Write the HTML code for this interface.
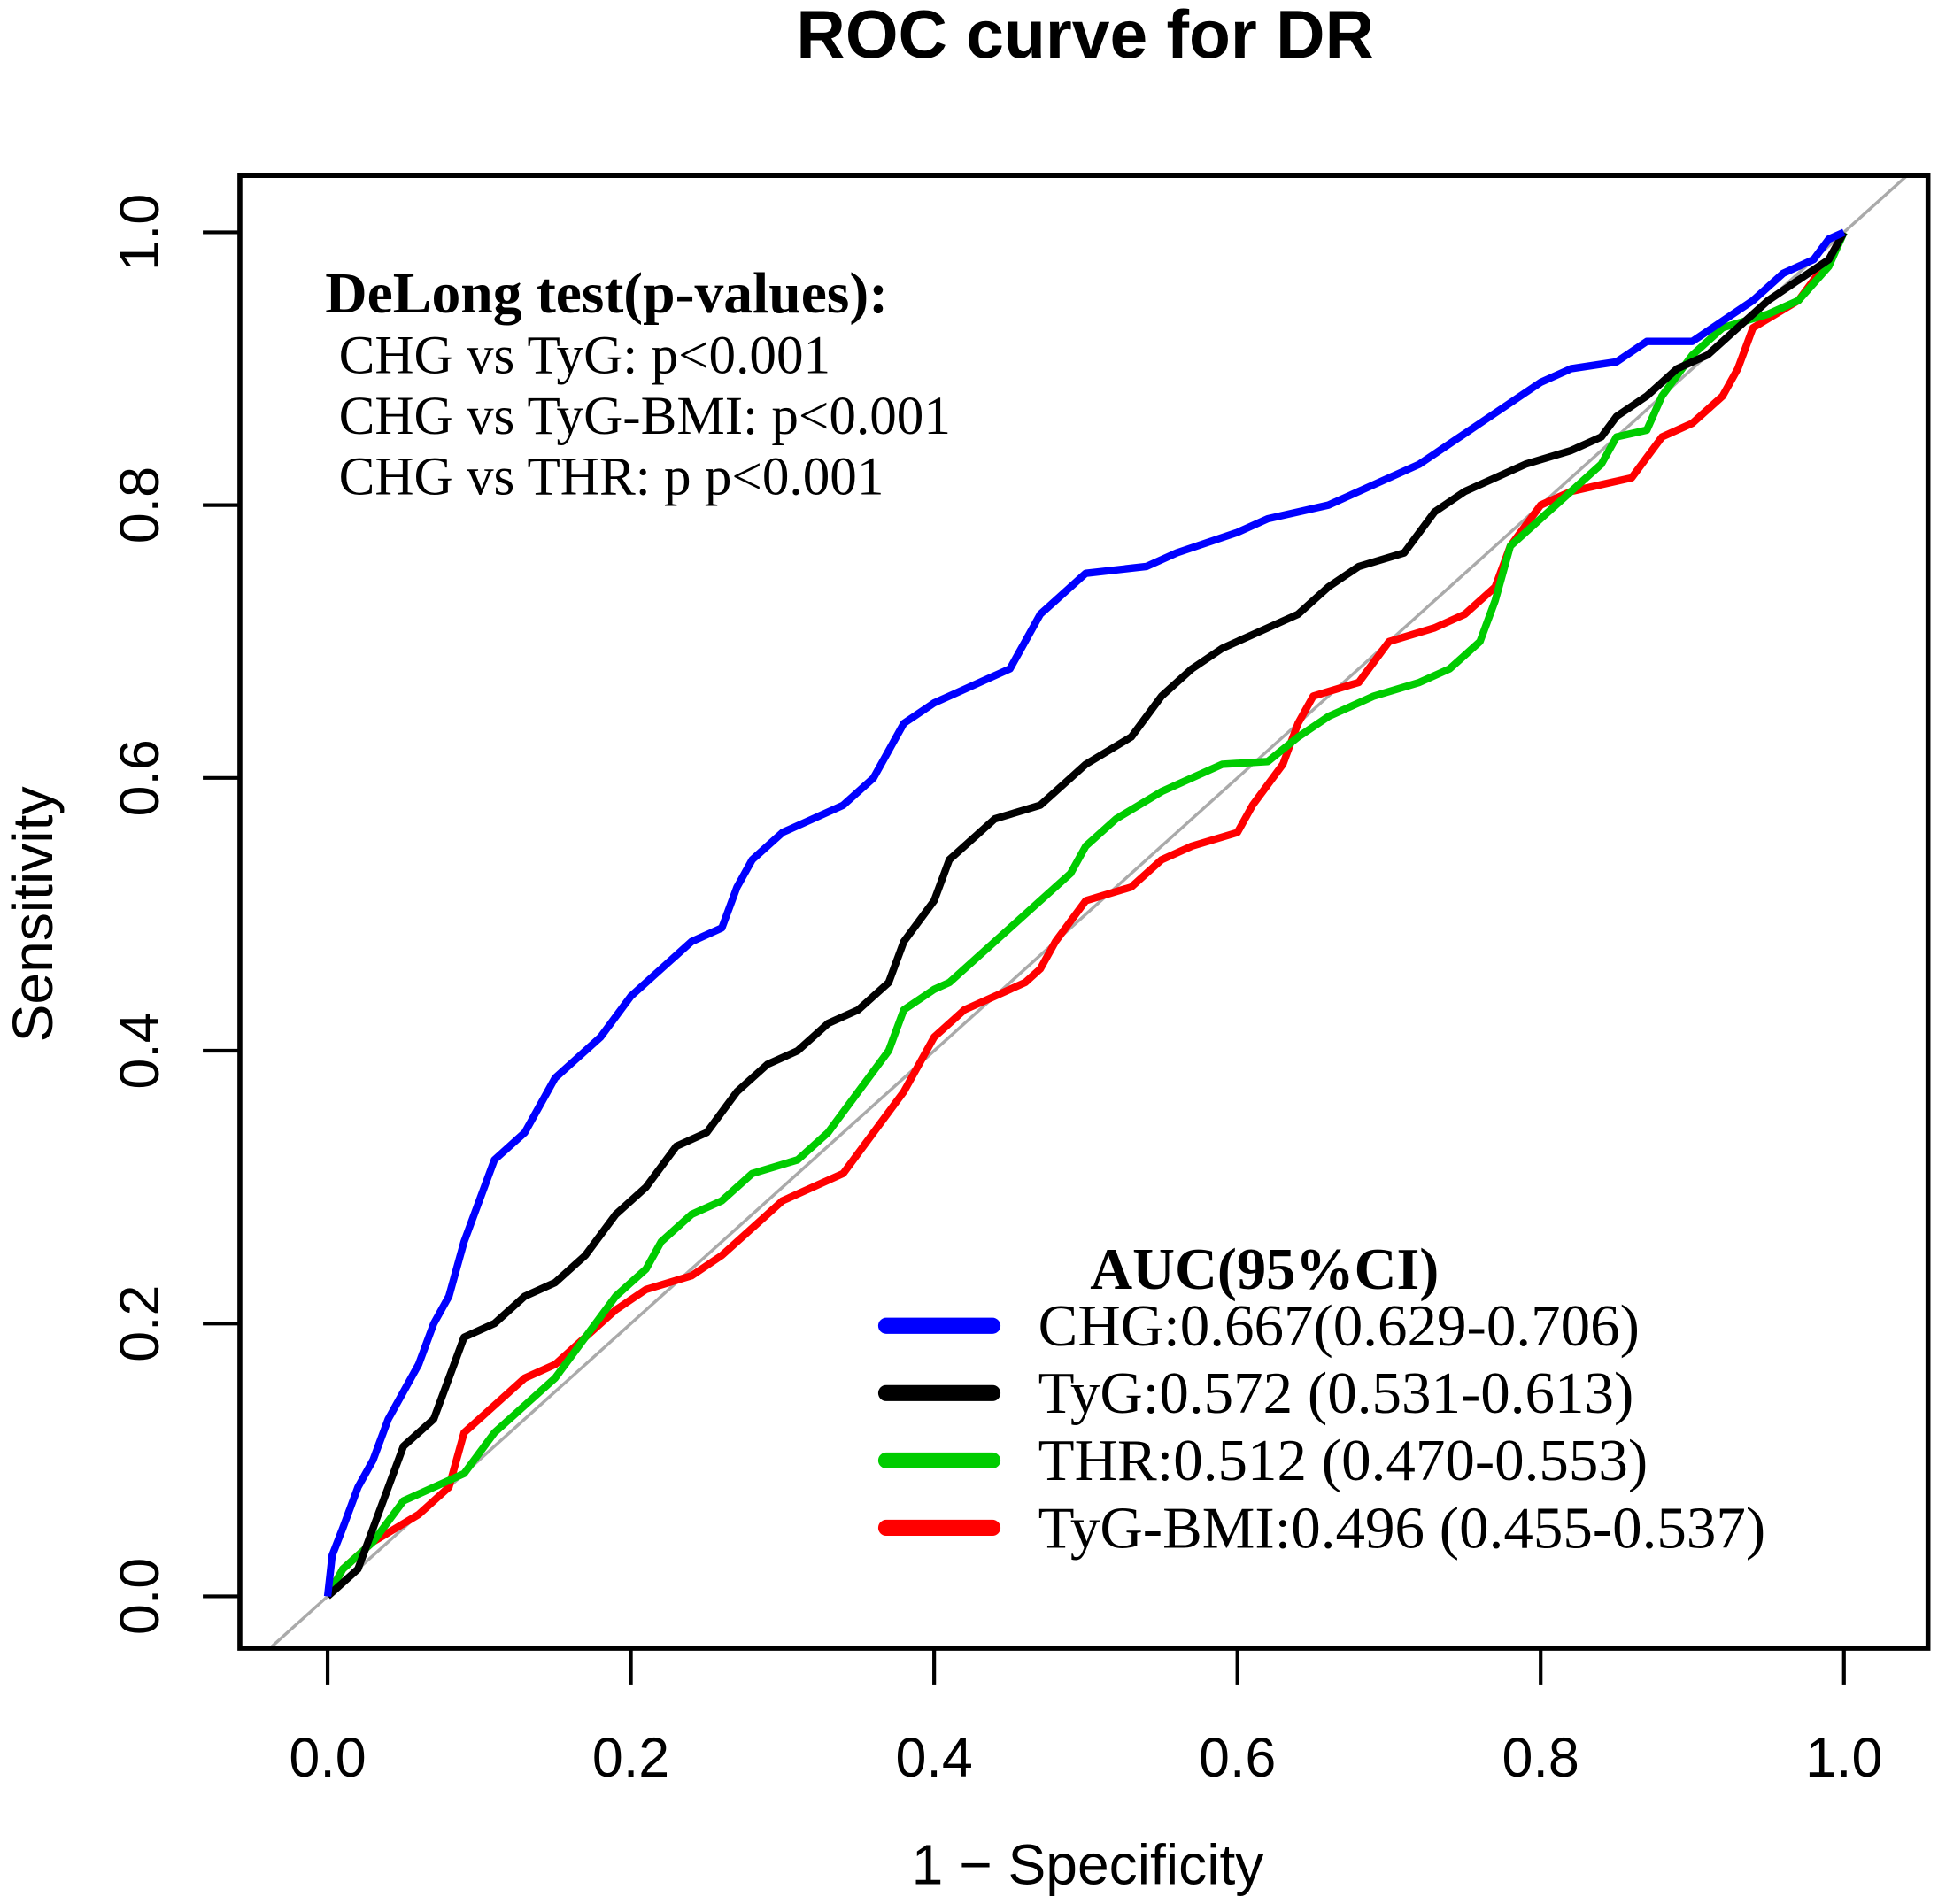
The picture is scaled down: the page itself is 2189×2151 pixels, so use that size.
<!DOCTYPE html>
<html><head><meta charset="utf-8">
<style>
html,body{margin:0;padding:0;background:#fff;}
svg{display:block;}
.sans{font-family:"Liberation Sans",Arial,sans-serif;}
.serif{font-family:"Liberation Serif","Times New Roman",serif;}
</style></head>
<body>
<svg id="chart" width="2189" height="2151" viewBox="0 0 1568 1541" xmlns="http://www.w3.org/2000/svg">
<defs><clipPath id="plotclip"><rect x="194" y="142" width="1366" height="1192"/></clipPath></defs>
<text class="sans" x="878" y="47" font-size="55" font-weight="bold" text-anchor="middle">ROC curve for DR</text>
<line id="diag" stroke="#aaa" stroke-width="2.5" clip-path="url(#plotclip)"/>
<g id="series" clip-path="url(#plotclip)"></g>
<rect x="194" y="142" width="1366" height="1192" fill="none" stroke="#000" stroke-width="4"/>
<g id="xaxis"></g><g id="yaxis"></g>
<text class="sans" x="880" y="1525" font-size="46" text-anchor="middle">1 − Specificity</text>
<text class="sans" transform="translate(42,740) rotate(-90)" font-size="46" text-anchor="middle">Sensitivity</text>
<g class="serif">
<text x="263" y="253" font-size="47" font-weight="bold">DeLong test(p-values):</text>
<text x="274" y="302" font-size="43.8">CHG vs TyG: p&lt;0.001</text>
<text x="274" y="351" font-size="43.8">CHG vs TyG-BMI: p&lt;0.001</text>
<text x="274" y="400" font-size="43.8">CHG vs THR: p p&lt;0.001</text>
</g>
<g id="legend" class="serif">
<text x="882" y="1043" font-size="47.5" font-weight="bold">AUC(95%CI)</text>
</g>
</svg>
<script>
const curveNames = ["CHG","TyG","THR","TyG-BMI"];
const curveColors = ["#0000ff","#000000","#00cc00","#ff0000"];
const legendLabels = ["CHG:0.667(0.629-0.706)","TyG:0.572 (0.531-0.613)","THR:0.512 (0.470-0.553)","TyG-BMI:0.496 (0.455-0.537)"];
const tickValues = [0,0.2,0.4,0.6,0.8,1.0];
const tickLabels = ["0.0","0.2","0.4","0.6","0.8","1.0"];
const chgFpr = [0,0.003,0.01,0.02,0.03,0.04,0.05,0.06,0.07,0.08,0.09,0.1,0.11,0.13,0.15,0.16,0.18,0.2,0.22,0.24,0.26,0.27,0.28,0.3,0.32,0.34,0.36,0.37,0.38,0.4,0.42,0.45,0.46,0.47,0.48,0.5,0.54,0.56,0.6,0.62,0.66,0.68,0.7,0.72,0.74,0.76,0.78,0.8,0.82,0.85,0.87,0.9,0.92,0.94,0.96,0.98,0.99,1];
const chgTpr = [0,0.03,0.05,0.08,0.1,0.13,0.15,0.17,0.2,0.22,0.26,0.29,0.32,0.34,0.38,0.39,0.41,0.44,0.46,0.48,0.49,0.52,0.54,0.56,0.57,0.58,0.6,0.62,0.64,0.655,0.665,0.68,0.7,0.72,0.73,0.75,0.755,0.765,0.78,0.79,0.8,0.81,0.82,0.83,0.845,0.86,0.875,0.89,0.9,0.905,0.92,0.92,0.935,0.95,0.97,0.98,0.995,1];
const tygFpr = [0,0.02,0.04,0.05,0.07,0.08,0.09,0.11,0.13,0.15,0.17,0.19,0.21,0.23,0.25,0.27,0.29,0.31,0.33,0.35,0.37,0.38,0.4,0.41,0.43,0.44,0.47,0.49,0.5,0.53,0.55,0.57,0.59,0.62,0.64,0.66,0.68,0.71,0.72,0.73,0.75,0.77,0.79,0.82,0.84,0.85,0.87,0.89,0.91,0.93,0.95,0.97,0.99,1];
const tygTpr = [0,0.02,0.08,0.11,0.13,0.16,0.19,0.2,0.22,0.23,0.25,0.28,0.3,0.33,0.34,0.37,0.39,0.4,0.42,0.43,0.45,0.48,0.51,0.54,0.56,0.57,0.58,0.6,0.61,0.63,0.66,0.68,0.695,0.71,0.72,0.74,0.755,0.765,0.78,0.795,0.81,0.82,0.83,0.84,0.85,0.865,0.88,0.9,0.91,0.93,0.95,0.965,0.98,1];
const thrFpr = [0,0.01,0.03,0.05,0.07,0.09,0.11,0.13,0.15,0.17,0.19,0.21,0.22,0.24,0.26,0.28,0.31,0.33,0.35,0.37,0.38,0.4,0.41,0.43,0.45,0.47,0.49,0.5,0.52,0.55,0.57,0.59,0.62,0.64,0.66,0.69,0.72,0.74,0.76,0.77,0.78,0.8,0.82,0.84,0.85,0.87,0.88,0.9,0.92,0.95,0.97,0.99,1];
const thrTpr = [0,0.02,0.04,0.07,0.08,0.09,0.12,0.14,0.16,0.19,0.22,0.24,0.26,0.28,0.29,0.31,0.32,0.34,0.37,0.4,0.43,0.445,0.45,0.47,0.49,0.51,0.53,0.55,0.57,0.59,0.6,0.61,0.612,0.63,0.645,0.66,0.67,0.68,0.7,0.73,0.77,0.79,0.81,0.83,0.85,0.855,0.88,0.91,0.93,0.94,0.95,0.975,1];
const bmiFpr = [0,0.01,0.03,0.06,0.08,0.09,0.11,0.13,0.15,0.17,0.19,0.21,0.24,0.26,0.28,0.3,0.32,0.34,0.36,0.38,0.4,0.42,0.44,0.46,0.47,0.48,0.5,0.53,0.55,0.57,0.6,0.61,0.63,0.64,0.65,0.68,0.7,0.73,0.75,0.77,0.78,0.8,0.82,0.84,0.86,0.88,0.9,0.92,0.93,0.94,0.97,0.99,1];
const bmiTpr = [0,0.02,0.04,0.06,0.08,0.12,0.14,0.16,0.17,0.19,0.21,0.225,0.235,0.25,0.27,0.29,0.3,0.31,0.34,0.37,0.41,0.43,0.44,0.45,0.46,0.48,0.51,0.52,0.54,0.55,0.56,0.58,0.61,0.64,0.66,0.67,0.7,0.71,0.72,0.74,0.77,0.8,0.81,0.815,0.82,0.85,0.86,0.88,0.9,0.93,0.95,0.98,1];

const NS="http://www.w3.org/2000/svg";
const sx = v => 265 + v*(1492-265);
const sy = v => 1292 - v*(1292-188);
const dg=document.getElementById('diag');
dg.setAttribute('x1',sx(-0.2));dg.setAttribute('y1',sy(-0.2));
dg.setAttribute('x2',sx(1.2));dg.setAttribute('y2',sy(1.2));
const series=[[chgFpr,chgTpr],[tygFpr,tygTpr],[thrFpr,thrTpr],[bmiFpr,bmiTpr]];
const sg=document.getElementById('series');
for(let i=series.length-1;i>=0;i--){
  const [fx,ty]=series[i];
  const pl=document.createElementNS(NS,'polyline');
  pl.setAttribute('points',fx.map((v,k)=>sx(v)+','+sy(ty[k])).join(' '));
  pl.setAttribute('fill','none');pl.setAttribute('stroke',curveColors[i]);
  pl.setAttribute('stroke-width','6');pl.setAttribute('stroke-linejoin','round');
  
  
  sg.appendChild(pl);
}
const xg=document.getElementById('xaxis'), yg=document.getElementById('yaxis');
tickValues.forEach((v,i)=>{
  const l=document.createElementNS(NS,'line');
  l.setAttribute('x1',sx(v));l.setAttribute('x2',sx(v));l.setAttribute('y1',1334);l.setAttribute('y2',1364);
  l.setAttribute('stroke','#000');l.setAttribute('stroke-width','3');
  
  
  xg.appendChild(l);
  const t=document.createElementNS(NS,'text');
  t.setAttribute('x',sx(v));t.setAttribute('y',1438);t.setAttribute('text-anchor','middle');
  t.setAttribute('font-size','45');t.setAttribute('class','sans');t.textContent=tickLabels[i];
  
  
  xg.appendChild(t);
  const l2=document.createElementNS(NS,'line');
  l2.setAttribute('x1',164);l2.setAttribute('x2',194);l2.setAttribute('y1',sy(v));l2.setAttribute('y2',sy(v));
  l2.setAttribute('stroke','#000');l2.setAttribute('stroke-width','3');
  
  
  yg.appendChild(l2);
  const t2=document.createElementNS(NS,'text');
  t2.setAttribute('transform','translate(128,'+sy(v)+') rotate(-90)');t2.setAttribute('text-anchor','middle');
  t2.setAttribute('font-size','45');t2.setAttribute('class','sans');t2.textContent=tickLabels[i];
  
  
  yg.appendChild(t2);
});
const lg=document.getElementById('legend');
legendLabels.forEach((s,i)=>{
  const y=1073+i*54.5;
  const l=document.createElementNS(NS,'line');
  l.setAttribute('x1',717);l.setAttribute('x2',803);l.setAttribute('y1',y);l.setAttribute('y2',y);
  l.setAttribute('stroke',curveColors[i]);l.setAttribute('stroke-width','13');l.setAttribute('stroke-linecap','round');
  
  
  lg.appendChild(l);
  const t=document.createElementNS(NS,'text');
  t.setAttribute('x',840);t.setAttribute('y',y+16);t.setAttribute('font-size','48');t.textContent=s;
  
  
  lg.appendChild(t);
});
</script>
</body></html>
